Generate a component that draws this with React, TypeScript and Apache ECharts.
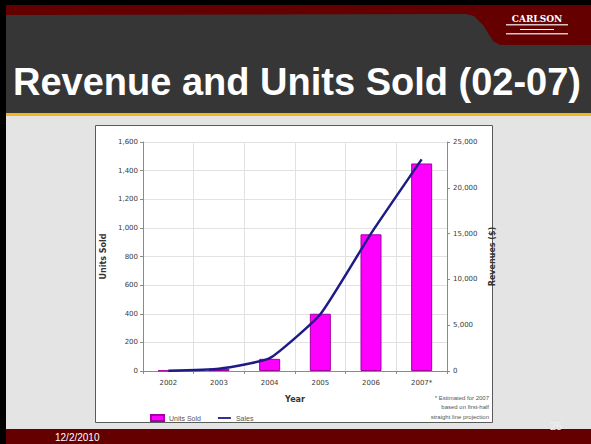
import React, { useEffect, useRef } from "react";
import * as echarts from "echarts";

const years = ["2002", "2003", "2004", "2005", "2006", "2007*"];
const unitsSold = [3, 15, 85, 400, 955, 1450];
const salesRevenue = [30, 250, 1400, 6200, 15000, 23100];
const unitsAxis = { min: 0, max: 1600, interval: 200 };
const revenueAxis = { min: 0, max: 25000, interval: 5000 };
const titleText = "Revenue and Units Sold (02-07)";
const footnoteLines = ["* Estimated for 2007", "based on first-half", "straight line projection"];
const dateText = "12/2/2010";
const pageText = "25";

const fmt = (v: number) => v.toLocaleString("en-US");

export default function App() {
  const ref = useRef<HTMLDivElement>(null);
  useEffect(() => {
    if (!ref.current) return;
    const chart = echarts.init(ref.current, undefined, { renderer: "svg" });
    const axisFont = { fontFamily: "DejaVu Sans", fontSize: 7, color: "#3a3a3a" };
    chart.setOption({
      animation: false,
      backgroundColor: "#e4e4e4",
      grid: { left: 143, right: 144, top: 142, bottom: 73 },
      legend: {
        left: 145,
        top: 409,
        itemWidth: 13,
        itemHeight: 6,
        itemGap: 17,
        textStyle: { fontFamily: "Liberation Sans", fontSize: 7, color: "#555" },
        data: [
          { name: "Units Sold", icon: "rect" },
          { name: "Sales", icon: "path://M0,0L0,0M0,6L0,6M0,2.1L13,2.1L13,3.9L0,3.9Z" },
        ],
      },
      xAxis: {
        type: "category",
        data: years,
        name: "Year",
        nameLocation: "middle",
        nameGap: 24,
        nameTextStyle: { fontFamily: "DejaVu Sans", fontSize: 8, fontWeight: "bold", color: "#333" },
        axisLine: { lineStyle: { color: "#8a8a8a" } },
        axisTick: { show: true, length: 3, lineStyle: { color: "#8a8a8a" } },
        axisLabel: { ...axisFont, margin: 8 },
        splitLine: { show: true, lineStyle: { color: "#e2e2e2" } },
      },
      yAxis: [
        {
          type: "value",
          ...unitsAxis,
          name: "Units Sold",
          nameLocation: "middle",
          nameGap: 35,
          nameRotate: 90,
          nameTextStyle: { fontFamily: "DejaVu Sans", fontSize: 8, fontWeight: "bold", color: "#333" },
          axisLine: { show: true, lineStyle: { color: "#8a8a8a" } },
          axisTick: { show: true, length: 3, lineStyle: { color: "#8a8a8a" } },
          axisLabel: { ...axisFont, margin: 5, formatter: (v: number) => fmt(v) },
          splitLine: { show: true, lineStyle: { color: "#e2e2e2" } },
        },
        {
          type: "value",
          ...revenueAxis,
          position: "right",
          name: "Revenues ($)",
          nameLocation: "middle",
          nameGap: 38,
          nameRotate: 90,
          nameTextStyle: { fontFamily: "DejaVu Sans", fontSize: 8, fontWeight: "bold", color: "#333" },
          axisLine: { show: true, lineStyle: { color: "#8a8a8a" } },
          axisTick: { show: true, length: 3, lineStyle: { color: "#8a8a8a" } },
          axisLabel: { ...axisFont, margin: 6, formatter: (v: number) => fmt(v) },
          splitLine: { show: false },
        },
      ],
      series: [
        {
          name: "Units Sold",
          type: "bar",
          yAxisIndex: 0,
          data: unitsSold,
          barWidth: 21,
          itemStyle: { color: "#ff00ff", borderColor: "#a000a0", borderWidth: 1 },
        },
        {
          name: "Sales",
          type: "line",
          yAxisIndex: 1,
          data: salesRevenue,
          symbol: "none",
          smooth: 0.15,
          lineStyle: { color: "#1e1a86", width: 2.5 },
          itemStyle: { color: "#1e1a86" },
        },
      ],
      graphic: [
        { type: "rect", z: -20, shape: { x: 0, y: 0, width: 591, height: 444 }, style: { fill: "#e4e4e4" } },
        { type: "rect", z: -19, shape: { x: 0, y: 14, width: 591, height: 100 }, style: { fill: "#363636" } },
        { type: "rect", z: -18, shape: { x: 0, y: 113, width: 591, height: 3 }, style: { fill: "#f4b71a" } },
        {
          type: "polygon",
          z: -17,
          shape: {
            points: [[0, 4], [591, 4], [591, 45], [500, 45], [493, 41], [483, 25], [474, 16], [466, 14], [0, 15]],
          },
          style: { fill: "#650000" },
        },
        { type: "rect", z: -16, shape: { x: 0, y: 0, width: 591, height: 5 }, style: { fill: "#000" } },
        { type: "rect", z: -16, shape: { x: 0, y: 0, width: 6, height: 444 }, style: { fill: "#000" } },
        { type: "rect", z: -17, shape: { x: 0, y: 429, width: 591, height: 15 }, style: { fill: "#650000" } },
        {
          type: "rect",
          z: -10,
          shape: { x: 95.5, y: 125.5, width: 397, height: 297 },
          style: { fill: "#ffffff", stroke: "#5a5a5a", lineWidth: 1 },
        },
        {
          type: "text",
          z: 10,
          x: 537,
          y: 19,
          style: {
            text: "CARLSON",
            fill: "#ffffff",
            font: 'bold 9px "DejaVu Serif"',
            textAlign: "center",
            textVerticalAlign: "middle",
          },
        },
        { type: "rect", z: 10, shape: { x: 506, y: 24, width: 62, height: 1.5 }, style: { fill: "#d8c4c4" } },
        { type: "rect", z: 10, shape: { x: 520, y: 29, width: 34, height: 1 }, style: { fill: "#ffffff" } },
        { type: "rect", z: 10, shape: { x: 506, y: 33, width: 62, height: 1.5 }, style: { fill: "#d8c4c4" } },
        {
          type: "text",
          z: 10,
          x: 297,
          y: 82,
          style: {
            text: titleText,
            fill: "#ffffff",
            font: 'bold 38px "Liberation Sans"',
            textAlign: "center",
            textVerticalAlign: "middle",
          },
        },
        {
          type: "text",
          z: 10,
          x: 489,
          y: 393,
          style: {
            text: footnoteLines.join("\n"),
            fill: "#555",
            font: '6px "Liberation Sans"',
            lineHeight: 9.5,
            textAlign: "right",
            textVerticalAlign: "top",
          },
        },
        {
          type: "text",
          z: 10,
          x: 55,
          y: 437,
          style: {
            text: dateText,
            fill: "#ffffff",
            font: '10px "Liberation Sans"',
            textAlign: "left",
            textVerticalAlign: "middle",
          },
        },
        {
          type: "text",
          z: 10,
          x: 556,
          y: 426,
          style: {
            text: pageText,
            fill: "#f0f0f0",
            font: '11px "Liberation Sans"',
            textAlign: "center",
            textVerticalAlign: "middle",
          },
        },
      ],
    });
    return () => chart.dispose();
  }, []);
  return <div ref={ref} style={{ position: "absolute", left: 0, top: 0, width: 591, height: 444 }} />;
}
